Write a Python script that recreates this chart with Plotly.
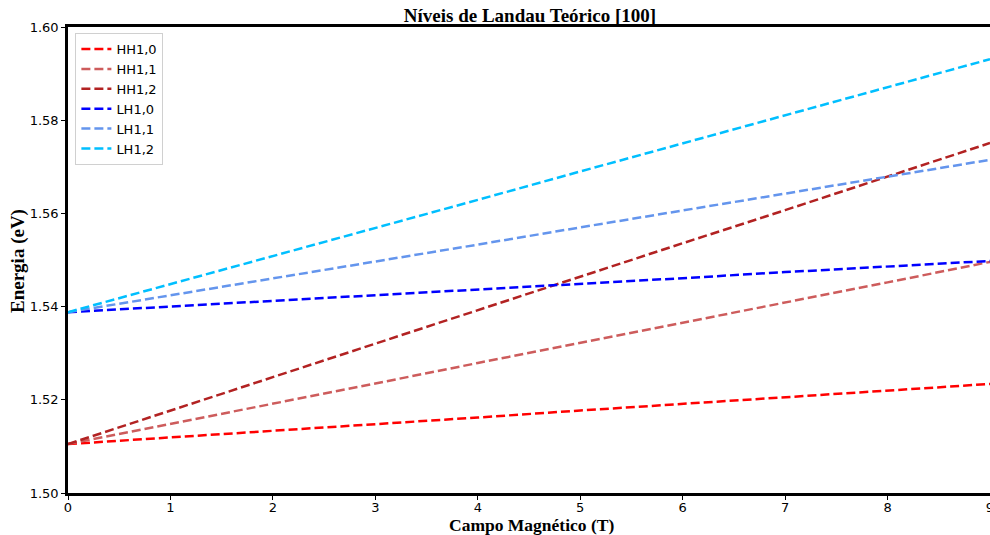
import plotly.graph_objects as go

campo = [0, 1, 2, 3, 4, 5, 6, 7, 8, 9]
hh10 = [1.5105, 1.5119, 1.5134, 1.5148, 1.5162, 1.5177, 1.5191, 1.5205, 1.5220, 1.5234]
hh11 = [1.5105, 1.5148, 1.5192, 1.5235, 1.5279, 1.5322, 1.5366, 1.5409, 1.5452, 1.5496]
hh12 = [1.5105, 1.5177, 1.5249, 1.5320, 1.5392, 1.5464, 1.5536, 1.5607, 1.5679, 1.5751]
lh10 = [1.5388, 1.5400, 1.5412, 1.5425, 1.5437, 1.5449, 1.5461, 1.5474, 1.5486, 1.5498]
lh11 = [1.5388, 1.5424, 1.5461, 1.5497, 1.5533, 1.5570, 1.5606, 1.5642, 1.5679, 1.5715]
lh12 = [1.5388, 1.5448, 1.5509, 1.5569, 1.5629, 1.5690, 1.5750, 1.5810, 1.5871, 1.5931]

series = [
    ("HH1,0", hh10, "#ff0000"),
    ("HH1,1", hh11, "#cd5c5c"),
    ("HH1,2", hh12, "#b22222"),
    ("LH1,0", lh10, "#0000ff"),
    ("LH1,1", lh11, "#6495ed"),
    ("LH1,2", lh12, "#00bfff"),
]
x_ticks = [0, 1, 2, 3, 4, 5, 6, 7, 8, 9]
y_ticks = [1.50, 1.52, 1.54, 1.56, 1.58, 1.60]

fig = go.Figure()
for name, vals, col in series:
    fig.add_trace(go.Scatter(x=campo, y=vals, mode="lines", name=name,
                             line=dict(color=col, width=2.5, dash="9px,4px")))

W, H = 990, 535
serif = "Liberation Serif, Times New Roman, serif"
fig.update_layout(
    width=W, height=H,
    margin=dict(l=68, r=0, t=27, b=42, autoexpand=False),
    paper_bgcolor="white", plot_bgcolor="white",
    title=dict(text="<b>Níveis de Landau Teórico [100]</b>", x=530 / W, xanchor="center",
               y=1 - 15 / H, yanchor="middle", font=dict(family=serif, size=19, color="black")),
    showlegend=True,
    legend=dict(x=0.008, y=0.987, xanchor="left", yanchor="top",
                bgcolor="rgba(255,255,255,0.8)", bordercolor="#d0d0d0", borderwidth=1,
                font=dict(family="DejaVu Sans", size=13, color="black"),
                tracegroupgap=0, itemwidth=30),
    font=dict(family="DejaVu Sans", size=13, color="black"),
    annotations=[
        dict(text="<b>Campo Magnético (T)</b>", xref="paper", yref="paper",
             x=(531 - 68) / (W - 68), y=-(525 - 493) / (493 - 27),
             xanchor="center", yanchor="middle", showarrow=False,
             font=dict(family=serif, size=17.5, color="black")),
        dict(text="<b>Energia (eV)</b>", xref="paper", yref="paper",
             x=-(68 - 18) / (W - 68), y=(493 - 261) / (493 - 27), textangle=-90,
             xanchor="center", yanchor="middle", showarrow=False,
             font=dict(family=serif, size=19, color="black")),
    ],
)
fig.update_xaxes(range=[0, 9], tickvals=x_ticks, ticks="outside", ticklen=4, tickwidth=1.2,
                 tickcolor="black", showline=True, linecolor="black", linewidth=2.5,
                 mirror=True, showgrid=False, zeroline=False, ticklabeloverflow="allow",
                 automargin=False, ticklabelstandoff=-3,
                 tickfont=dict(family="DejaVu Sans", size=13, color="black"))
fig.update_yaxes(range=[1.50, 1.60], tickvals=y_ticks, tickformat=".2f", ticks="outside",
                 ticklen=4, tickwidth=1.2, tickcolor="black", showline=True, linecolor="black",
                 linewidth=2.5, showgrid=False, zeroline=False, automargin=False,
                 tickfont=dict(family="DejaVu Sans", size=13, color="black"))

fig.write_html("out.html")
